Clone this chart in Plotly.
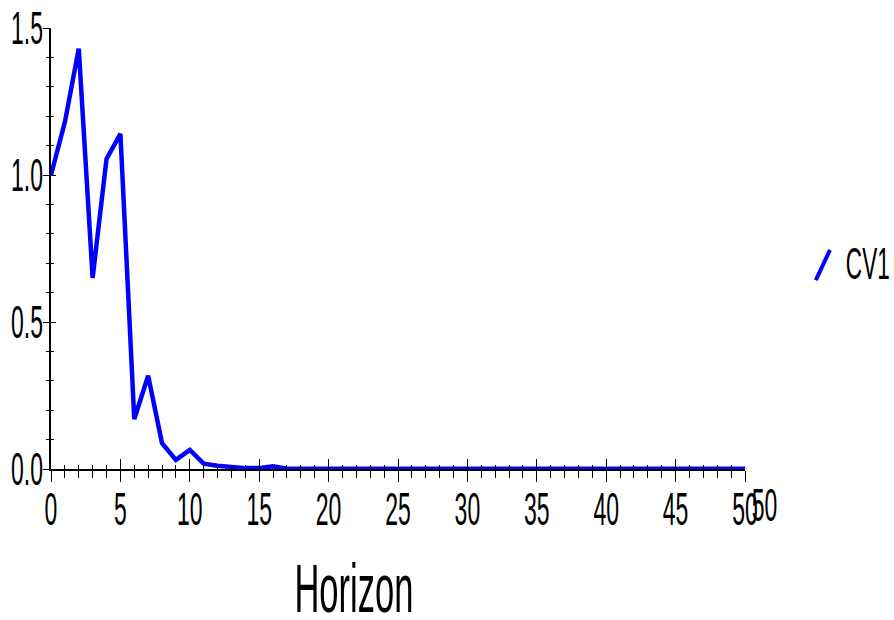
import plotly.graph_objects as go

# ---- data ----
horizon = list(range(0, 51))
cv1 = [1.000, 1.180, 1.430, 0.650, 1.055, 1.140, 0.170, 0.317, 0.088, 0.031,
       0.065, 0.018, 0.011, 0.006, 0.003, 0.003, 0.009, 0.001, 0.002, 0.001,
       0.001, 0.001, 0.001, 0.001, 0.001, 0.001, 0.001, 0.001, 0.001, 0.001,
       0.001, 0.001, 0.001, 0.001, 0.001, 0.001, 0.001, 0.001, 0.001, 0.001,
       0.001, 0.001, 0.001, 0.001, 0.001, 0.001, 0.001, 0.001, 0.001, 0.001,
       0.001]
x_tickvals = [0, 5, 10, 15, 20, 25, 30, 35, 40, 45, 50]
y_tickvals = [0.0, 0.5, 1.0, 1.5]
y_ticktext = ["0.0", "0.5", "1.0", "1.5"]
series_name = "CV1"
x_title = "Horizon"

FONT = "Liberation Sans, Arial, sans-serif"
BLUE = "#0000FF"

fig = go.Figure()
fig.add_trace(go.Scatter(x=horizon, y=cv1, mode="lines", name=series_name,
                         line=dict(color=BLUE, width=4.5), showlegend=False))
# invisible twin trace so overlay axes (inner half of crossing ticks) are drawn
fig.add_trace(go.Scatter(x=horizon, y=cv1, mode="lines", xaxis="x2", yaxis="y2",
                         line=dict(width=0), opacity=0, showlegend=False,
                         hoverinfo="skip"))

tickfont = dict(family=FONT, size=46, color="black")

fig.update_layout(
    width=894, height=620,
    margin=dict(l=51, r=149, t=28, b=151, autoexpand=False),
    paper_bgcolor="white", plot_bgcolor="white",
    font=dict(family=FONT, color="black"),
    xaxis=dict(range=[0, 50], tickvals=x_tickvals, ticks="outside", ticklen=11,
               tickwidth=1.2, tickcolor="black", showline=True, linecolor="black",
               linewidth=1.5, showgrid=False, zeroline=False, tickfont=tickfont,
               automargin=False, ticklabelstandoff=-12,
               minor=dict(dtick=1, ticks="outside", ticklen=7, tickcolor="black",
                          tickwidth=1)),
    yaxis=dict(range=[0, 1.5], tickvals=y_tickvals, ticktext=y_ticktext,
               ticks="outside", ticklen=6, tickwidth=1.2, tickcolor="black",
               showline=True, linecolor="black", linewidth=1.5, showgrid=False,
               zeroline=False, tickfont=tickfont, automargin=False,
               ticklabelstandoff=-9,
               minor=dict(dtick=0.1, ticks="outside", ticklen=3, tickcolor="black",
                          tickwidth=1)),
    xaxis2=dict(range=[0, 50], overlaying="x", anchor="y2", tickvals=x_tickvals,
                ticks="inside", ticklen=10, tickwidth=1.2, tickcolor="black",
                showticklabels=False, showline=False, showgrid=False,
                zeroline=False, automargin=False,
                minor=dict(dtick=1, ticks="inside", ticklen=4, tickcolor="black",
                           tickwidth=1)),
    yaxis2=dict(range=[0, 1.5], overlaying="y", anchor="x2", tickvals=y_tickvals,
                side="left", ticks="inside", ticklen=5, tickwidth=1.2,
                tickcolor="black", showticklabels=False, showline=False,
                showgrid=False, zeroline=False, automargin=False,
                minor=dict(dtick=0.1, ticks="inside", ticklen=3, tickcolor="black",
                           tickwidth=1)),
)

# axis title
fig.add_annotation(text=x_title, xref="paper", yref="paper", x=0.4366, y=-0.272,
                   xanchor="center", yanchor="middle", showarrow=False,
                   font=dict(family=FONT, size=69, color="black"))
# stray duplicate end label seen in the reference
fig.add_annotation(text=str(x_tickvals[-1]), xref="paper", yref="paper",
                   x=1.0274, y=-0.0816, xanchor="center", yanchor="middle",
                   showarrow=False, font=tickfont)

# hand-drawn legend (slanted stroke + label)
fig.add_shape(type="line", xref="paper", yref="paper", x0=1.102, y0=0.428,
              x1=1.1225, y1=0.497, line=dict(color=BLUE, width=4))
fig.add_annotation(text=series_name, xref="paper", yref="paper", x=1.177, y=0.467,
                   xanchor="center", yanchor="middle", showarrow=False,
                   font=dict(family=FONT, size=45, color="black"))

# the reference typeface is a strongly condensed sans; squeeze glyphs horizontally
post = """
document.body.style.margin = '0';
var gd = document.getElementById('{plot_id}');
function squeeze(){
  gd.querySelectorAll('svg text').forEach(function(t){
    if (t.getAttribute('data-sq')) return;
    var L = t.getComputedTextLength();
    if (L > 0) {
      t.setAttribute('textLength', (L*0.5).toFixed(1));
      t.setAttribute('lengthAdjust', 'spacingAndGlyphs');
      t.setAttribute('data-sq', '1');
    }
  });
}
squeeze();
gd.on('plotly_afterplot', squeeze);
"""
fig.write_html("out.html", post_script=post, config={"displayModeBar": False})
